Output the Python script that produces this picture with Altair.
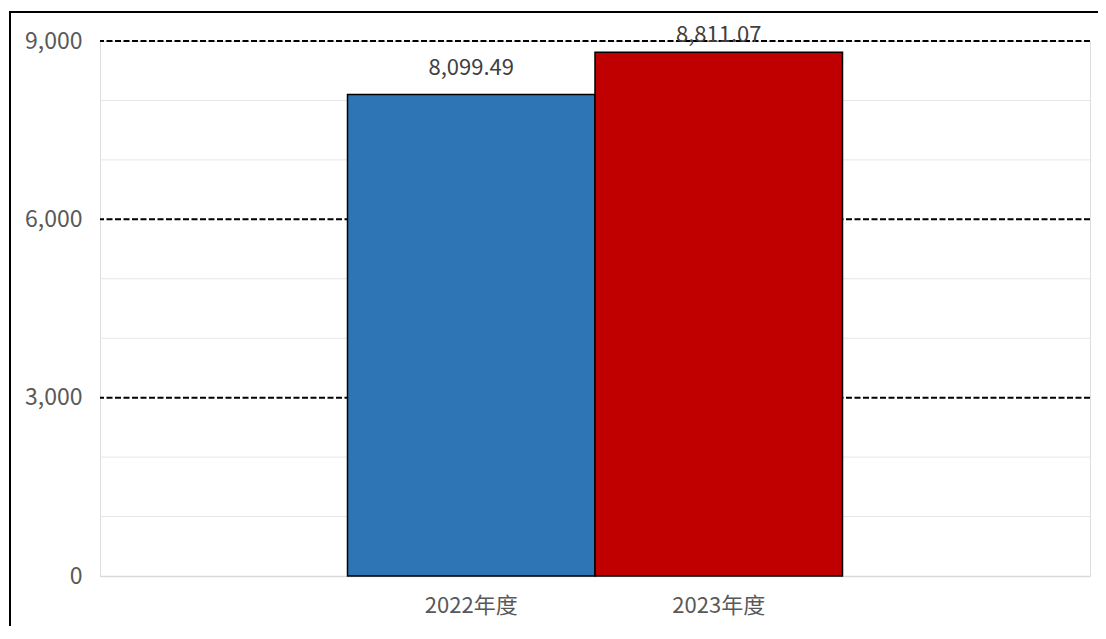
import altair as alt
import pandas as pd

categories = ["2022年度", "2023年度"]
values = [8099.49, 8811.07]
bar_colors = ["#2E75B6", "#C00000"]
major_ticks = [0, 3000, 6000, 9000]
major_grid = [3000, 6000, 9000]
minor_grid = [1000, 2000, 4000, 5000, 7000, 8000]

FONT = "Noto Sans CJK SC"

df = pd.DataFrame({"year": categories, "value": values})
major_df = pd.DataFrame({"value": major_grid})
minor_df = pd.DataFrame({"value": minor_grid})
frame_df = pd.DataFrame({"f": [0]})

y_scale = alt.Scale(domain=[0, 9000], nice=False)
x_enc = alt.X(
    "year:N",
    sort=categories,
    scale=alt.Scale(paddingInner=0, paddingOuter=1),
    axis=alt.Axis(
        title=None, labelAngle=0, labelFont=FONT, labelFontSize=22,
        labelColor="#595959", labelPadding=19, ticks=False,
        domainColor="#d9d9d9", domainWidth=1.5,
    ),
)
y_enc = alt.Y(
    "value:Q",
    scale=y_scale,
    axis=alt.Axis(
        title=None, values=major_ticks, format=",.0f", grid=False, domain=False,
        ticks=False, labelFont=FONT, labelFontSize=23, labelColor="#595959",
        labelPadding=18,
    ),
)

minor = alt.Chart(minor_df).mark_rule(color="#e6e6e6", strokeWidth=1).encode(
    y=alt.Y("value:Q", scale=y_scale)
)
major = alt.Chart(major_df).mark_rule(
    color="black", strokeWidth=2, strokeDash=[6, 2.5]
).encode(y=alt.Y("value:Q", scale=y_scale))

bars = alt.Chart(df).mark_bar(stroke="black", strokeWidth=1.5).encode(
    x=x_enc,
    y=y_enc,
    color=alt.Color("year:N", scale=alt.Scale(domain=categories, range=bar_colors), legend=None),
)

lab1 = alt.Chart(df).transform_filter(alt.datum.year == categories[0]).mark_text(
    font=FONT, fontSize=22, color="#404040", baseline="alphabetic", dy=-20
).encode(x=alt.X("year:N", sort=categories), y=alt.Y("value:Q", scale=y_scale),
         text=alt.Text("value:Q", format=",.2f"))
lab2 = alt.Chart(df).transform_filter(alt.datum.year == categories[1]).mark_text(
    font=FONT, fontSize=22, color="#404040", baseline="alphabetic", dy=-10
).encode(x=alt.X("year:N", sort=categories), y=alt.Y("value:Q", scale=y_scale),
         text=alt.Text("value:Q", format=",.2f"))

frame_top = alt.Chart(frame_df).mark_rule(color="black", strokeWidth=2).encode(
    x=alt.value(-91), x2=alt.value(1200), y=alt.value(-29)
)
frame_left = alt.Chart(frame_df).mark_rule(color="black", strokeWidth=2).encode(
    x=alt.value(-90), y=alt.value(-30), y2=alt.value(800)
)

chart = alt.layer(minor, major, bars, lab1, lab2, frame_top, frame_left).properties(
    width=990,
    height=535,
    autosize=alt.AutoSizeParams(type="none"),
    padding={"left": 92, "top": 33, "right": 8, "bottom": 50},
).configure_view(stroke=None).configure(background="white")

chart.save("out.html", embed_options={"renderer": "svg", "actions": False})
